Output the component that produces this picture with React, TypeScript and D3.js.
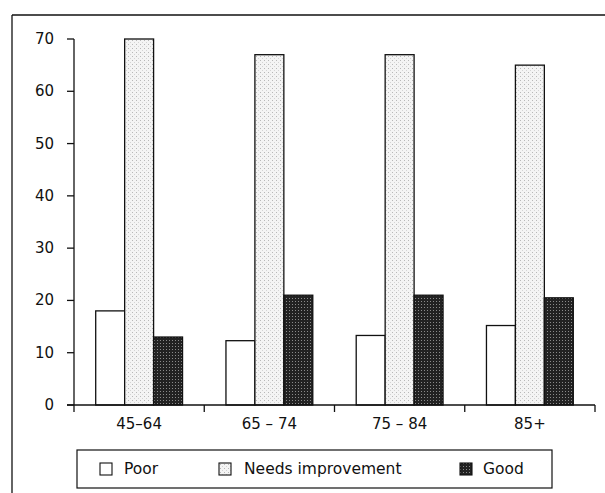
import React from "react";
import * as d3 from "d3";

const categories = ["45\u201364", "65 \u2013 74", "75 \u2013 84", "85+"];
const categoryLabels = ["45\u201364", "65 \u2013 74", "75 \u2013 84", "85+"];
const seriesNames = ["Poor", "Needs improvement", "Good"];
const poor = [18, 12.3, 13.3, 15.2];
const needsImprovement = [70, 67, 67, 65];
const good = [13, 21, 21, 20.5];
const yTicks = [0, 10, 20, 30, 40, 50, 60, 70];

const W = 605;
const H = 493;
const FONT = "'DejaVu Sans', sans-serif";

export default function App() {
  const seriesValues = [poor, needsImprovement, good];
  const fills = ["#ffffff", "url(#needsPat)", "url(#goodPat)"];
  const y = d3.scaleLinear().domain([0, 70]).range([405, 39]);
  const x = d3.scaleBand<string>().domain(categories).range([74, 595]).padding(0);
  const x1 = d3
    .scaleBand<string>()
    .domain(seriesNames)
    .range([0, x.bandwidth()])
    .paddingInner(0)
    .paddingOuter(0.75);
  const boundaries = [...categories.map((c) => x(c) as number), 595];

  const legendItems = [
    { name: seriesNames[0], sx: 100, tx: 124 },
    { name: seriesNames[1], sx: 219, tx: 244 },
    { name: seriesNames[2], sx: 460, tx: 483 },
  ];

  return (
    <svg
      width={W}
      height={H}
      style={{ position: "absolute", left: 0, top: 0, background: "#fff" }}
      fontFamily={FONT}
    >
      <defs>
        <pattern id="needsPat" width="4" height="4" patternUnits="userSpaceOnUse">
          <rect width="4" height="4" fill="#f4f4f4" />
          <rect x="0" y="0" width="1" height="1" fill="#b8b8b8" />
          <rect x="2" y="2" width="1" height="1" fill="#d4d4d4" />
        </pattern>
        <pattern id="goodPat" width="3" height="3" patternUnits="userSpaceOnUse">
          <rect width="3" height="3" fill="#222" />
          <rect x="1" y="1" width="1" height="1" fill="#8a8a8a" />
        </pattern>
      </defs>
      <rect x={0} y={0} width={W} height={H} fill="#fff" />
      {/* outer frame */}
      <line x1={12} y1={15} x2={605} y2={15} stroke="#111" strokeWidth={1.3} />
      <line x1={12} y1={15} x2={12} y2={493} stroke="#111" strokeWidth={1.3} />

      {/* bars */}
      {categories.map((c, ci) =>
        seriesNames.map((s, si) => {
          const v = seriesValues[si][ci];
          const bx = (x(c) as number) + (x1(s) as number);
          return (
            <rect
              key={c + s}
              x={bx}
              y={y(v)}
              width={x1.bandwidth()}
              height={y(0) - y(v)}
              fill={fills[si]}
              stroke="#111"
              strokeWidth={1.3}
            />
          );
        })
      )}

      {/* y axis */}
      <line x1={74} y1={y(70)} x2={74} y2={y(0)} stroke="#111" strokeWidth={1.3} />
      {yTicks.map((t) => (
        <g key={t}>
          <line x1={67} x2={74} y1={y(t)} y2={y(t)} stroke="#111" strokeWidth={1.3} />
          <text
            x={54}
            y={y(t)}
            textAnchor="end"
            dominantBaseline="central"
            fontSize={15}
            fill="#111"
          >
            {t}
          </text>
        </g>
      ))}

      {/* x axis */}
      <line x1={67} x2={595} y1={y(0)} y2={y(0)} stroke="#111" strokeWidth={1.3} />
      {boundaries.map((b, i) => (
        <line key={i} x1={b} x2={b} y1={y(0)} y2={y(0) + 7} stroke="#111" strokeWidth={1.3} />
      ))}
      {categories.map((c, i) => (
        <text
          key={c}
          x={(x(c) as number) + x.bandwidth() / 2}
          y={429}
          textAnchor="middle"
          fontSize={15}
          fill="#111"
        >
          {categoryLabels[i]}
        </text>
      ))}

      {/* legend */}
      <rect x={77} y={450} width={475} height={38} fill="none" stroke="#111" strokeWidth={1.2} />
      {legendItems.map((it, i) => (
        <g key={it.name}>
          <rect x={it.sx} y={463} width={12} height={12} fill={fills[i]} stroke="#111" strokeWidth={1.1} />
          <text x={it.tx} y={469} dominantBaseline="central" fontSize={15.5} fill="#111">
            {it.name}
          </text>
        </g>
      ))}
    </svg>
  );
}
